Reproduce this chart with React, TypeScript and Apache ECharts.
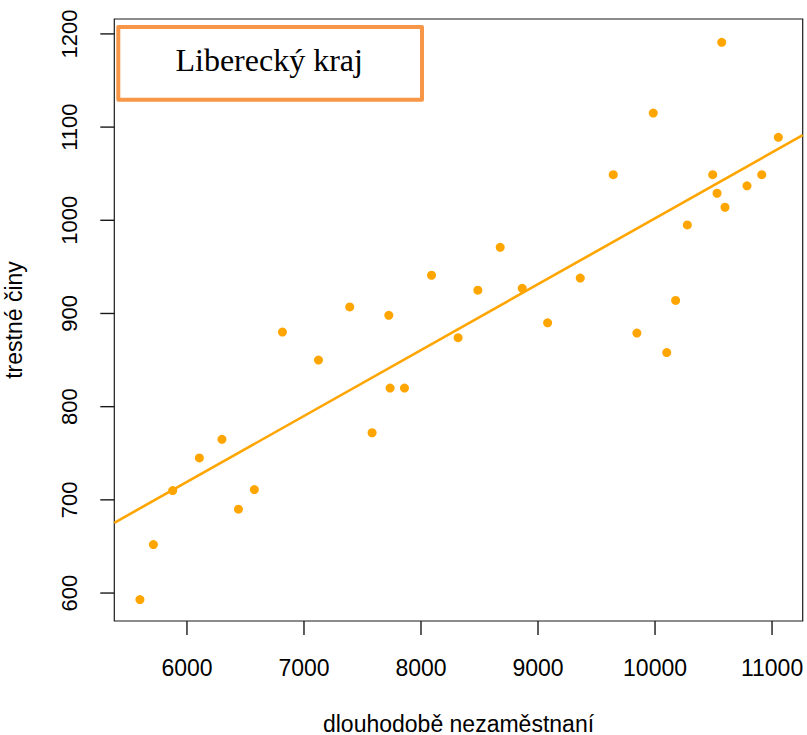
import React, { useEffect, useRef } from "react";
import * as echarts from "echarts";

// long-term unemployed (x) vs. criminal offences (y)
const unemployed = [
  5598, 5713, 5878, 6106, 6299, 6440, 6576, 6816, 7124, 7391, 7582, 7725,
  7736, 7859, 8090, 8317, 8486, 8677, 8865, 9082, 9361, 9643, 9845, 9985,
  10100, 10176, 10276, 10493, 10530, 10570, 10598, 10786, 10912, 11054,
];
const offences = [
  593, 652, 710, 745, 765, 690, 711, 880, 850, 907, 772, 898,
  820, 820, 941, 874, 925, 971, 927, 890, 938, 1049, 879, 1115,
  858, 914, 995, 1049, 1029, 1191, 1014, 1037, 1049, 1089,
];

// linear fit: offences = fitIntercept + fitSlope * unemployed
const fitIntercept = 295.1;
const fitSlope = 0.0707;

const xTicks = [6000, 7000, 8000, 9000, 10000, 11000];
const yTicks = [600, 700, 800, 900, 1000, 1100, 1200];

const xRange = [5379, 11262];
const yRange = [570, 1216];

const title = "Liberecký kraj";
const xTitle = "dlouhodobě nezaměstnaní";
const yTitle = "trestné činy";

const ORANGE = "#FFA500";
const INK = "#1a1a1a";
const SANS = "Liberation Sans, Arial, sans-serif";

const PLOT = { left: 114.3, right: 4.3, top: 19, bottom: 114 };
const TICK_LEN = 14;

export default function App() {
  const ref = useRef<HTMLDivElement>(null);

  useEffect(() => {
    if (!ref.current) return;
    const chart = echarts.init(ref.current, null, { renderer: "svg" });

    const points = unemployed.map((x, i) => [x, offences[i]]);
    const fitLine = xRange.map((x) => [x, fitIntercept + fitSlope * x]);

    const hiddenAxis = (min: number, max: number, gridIndex: number) => ({
      type: "value",
      gridIndex,
      min,
      max,
      show: false,
    });

    chart.setOption({
      animation: false,
      tooltip: { show: false },
      grid: [
        {
          // main plotting box
          ...PLOT,
          show: true,
          borderColor: INK,
          borderWidth: 1.2,
          containLabel: false,
          outerBoundsMode: "none",
        },
        {
          // strip under the box that holds the x tick marks
          left: PLOT.left,
          right: PLOT.right,
          top: 735 - PLOT.bottom,
          height: TICK_LEN,
          containLabel: false,
          outerBoundsMode: "none",
        },
        {
          // strip left of the box that holds the y tick marks
          left: PLOT.left - TICK_LEN,
          width: TICK_LEN,
          top: PLOT.top,
          bottom: PLOT.bottom,
          containLabel: false,
          outerBoundsMode: "none",
        },
      ],
      xAxis: [
        {
          type: "value",
          gridIndex: 0,
          min: xRange[0],
          max: xRange[1],
          splitLine: { show: false },
          axisLine: { show: false },
          axisTick: { show: false },
          axisLabel: {
            customValues: xTicks,
            formatter: (v: number) => String(v),
            margin: 35,
            fontFamily: SANS,
            fontSize: 23,
            color: "#000",
          },
          name: xTitle,
          nameLocation: "middle",
          nameGap: 91,
          nameTextStyle: { fontFamily: SANS, fontSize: 23, color: "#000" },
        },
        hiddenAxis(xRange[0], xRange[1], 1),
        hiddenAxis(0, 1, 2),
      ],
      yAxis: [
        {
          type: "value",
          gridIndex: 0,
          min: yRange[0],
          max: yRange[1],
          splitLine: { show: false },
          axisLine: { show: false },
          axisTick: { show: false },
          axisLabel: {
            customValues: yTicks,
            formatter: (v: number) => String(v),
            rotate: 90,
            margin: 34,
            fontFamily: SANS,
            fontSize: 22,
            color: "#000",
          },
          name: yTitle,
          nameLocation: "middle",
          nameGap: 89,
          nameRotate: 90,
          nameTextStyle: { fontFamily: SANS, fontSize: 23, color: "#000" },
        },
        hiddenAxis(0, 1, 1),
        hiddenAxis(yRange[0], yRange[1], 2),
      ],
      graphic: [
        {
          type: "rect",
          shape: { x: 118.3, y: 27, width: 303.7, height: 72.7 },
          style: {
            fill: "#fff",
            stroke: "#F79646",
            lineWidth: 4,
            lineJoin: "round",
          },
          z: 10,
        },
        {
          type: "text",
          x: 269.2,
          y: 60,
          style: {
            text: title,
            fontFamily: "Liberation Serif, Times New Roman, serif",
            fontSize: 32,
            fill: "#000",
            align: "center",
            verticalAlign: "middle",
          },
          z: 11,
        },
      ],
      series: [
        {
          // x tick marks
          type: "custom",
          xAxisIndex: 1,
          yAxisIndex: 1,
          data: xTicks.map((v) => [v, 0]),
          silent: true,
          renderItem: (params: any, api: any) => {
            const v = api.value(0);
            const top = api.coord([v, 1]);
            const bottom = api.coord([v, 0]);
            return {
              type: "line",
              shape: { x1: top[0], y1: top[1], x2: bottom[0], y2: bottom[1] },
              style: { stroke: INK, lineWidth: 1.4 },
            };
          },
        },
        {
          // y tick marks
          type: "custom",
          xAxisIndex: 2,
          yAxisIndex: 2,
          data: yTicks.map((v) => [0, v]),
          silent: true,
          renderItem: (params: any, api: any) => {
            const v = api.value(1);
            const left = api.coord([0, v]);
            const right = api.coord([1, v]);
            return {
              type: "line",
              shape: { x1: left[0], y1: left[1], x2: right[0], y2: right[1] },
              style: { stroke: INK, lineWidth: 1.4 },
            };
          },
        },
        {
          type: "line",
          xAxisIndex: 0,
          yAxisIndex: 0,
          data: fitLine,
          showSymbol: false,
          symbol: "none",
          lineStyle: { color: ORANGE, width: 2.6 },
          silent: true,
          z: 2,
        },
        {
          type: "scatter",
          xAxisIndex: 0,
          yAxisIndex: 0,
          data: points,
          symbol: "circle",
          symbolSize: 9,
          itemStyle: { color: ORANGE, opacity: 1 },
          z: 3,
        },
      ],
    });

    return () => chart.dispose();
  }, []);

  return (
    <div
      ref={ref}
      style={{ position: "absolute", left: 0, top: 0, width: 807, height: 735 }}
    />
  );
}
